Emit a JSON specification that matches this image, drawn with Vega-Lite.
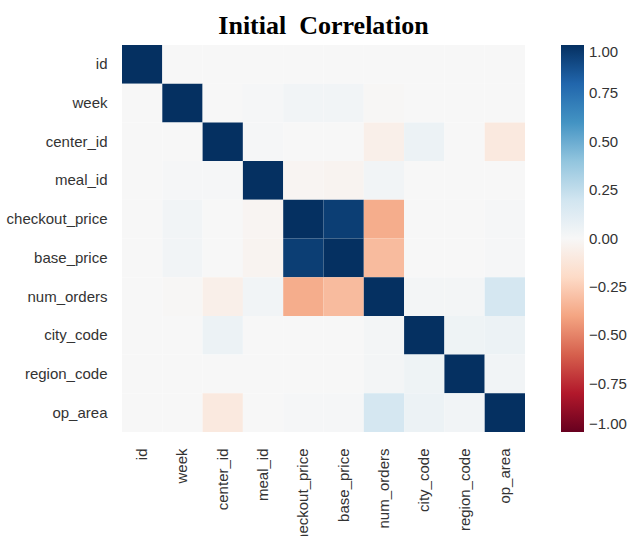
{
  "$schema": "https://vega.github.io/schema/vega-lite/v6.json",
  "width": 403,
  "height": 387,
  "autosize": {"type": "none"},
  "padding": {"left": 122, "top": 45, "right": 107, "bottom": 104},
  "background": "white",
  "title": {
    "text": "Initial\u00a0 Correlation",
    "font": "Liberation Serif",
    "fontSize": 26,
    "fontWeight": "bold",
    "color": "#000000",
    "anchor": "middle",
    "frame": "group",
    "offset": 6
  },
  "data": {
    "values": [
      {"row": "id", "col": "id", "r": 1.0},
      {"row": "id", "col": "week", "r": 0.0},
      {"row": "id", "col": "center_id", "r": 0.0},
      {"row": "id", "col": "meal_id", "r": 0.0},
      {"row": "id", "col": "checkout_price", "r": 0.0},
      {"row": "id", "col": "base_price", "r": 0.0},
      {"row": "id", "col": "num_orders", "r": 0.0},
      {"row": "id", "col": "city_code", "r": 0.0},
      {"row": "id", "col": "region_code", "r": 0.0},
      {"row": "id", "col": "op_area", "r": 0.0},

      {"row": "week", "col": "id", "r": 0.0},
      {"row": "week", "col": "week", "r": 1.0},
      {"row": "week", "col": "center_id", "r": 0.0},
      {"row": "week", "col": "meal_id", "r": 0.01},
      {"row": "week", "col": "checkout_price", "r": 0.03},
      {"row": "week", "col": "base_price", "r": 0.03},
      {"row": "week", "col": "num_orders", "r": -0.01},
      {"row": "week", "col": "city_code", "r": 0.0},
      {"row": "week", "col": "region_code", "r": 0.0},
      {"row": "week", "col": "op_area", "r": 0.0},

      {"row": "center_id", "col": "id", "r": 0.0},
      {"row": "center_id", "col": "week", "r": 0.0},
      {"row": "center_id", "col": "center_id", "r": 1.0},
      {"row": "center_id", "col": "meal_id", "r": 0.01},
      {"row": "center_id", "col": "checkout_price", "r": 0.0},
      {"row": "center_id", "col": "base_price", "r": 0.0},
      {"row": "center_id", "col": "num_orders", "r": -0.06},
      {"row": "center_id", "col": "city_code", "r": 0.06},
      {"row": "center_id", "col": "region_code", "r": 0.0},
      {"row": "center_id", "col": "op_area", "r": -0.1},

      {"row": "meal_id", "col": "id", "r": 0.0},
      {"row": "meal_id", "col": "week", "r": 0.01},
      {"row": "meal_id", "col": "center_id", "r": 0.01},
      {"row": "meal_id", "col": "meal_id", "r": 1.0},
      {"row": "meal_id", "col": "checkout_price", "r": -0.02},
      {"row": "meal_id", "col": "base_price", "r": -0.03},
      {"row": "meal_id", "col": "num_orders", "r": 0.03},
      {"row": "meal_id", "col": "city_code", "r": 0.0},
      {"row": "meal_id", "col": "region_code", "r": 0.0},
      {"row": "meal_id", "col": "op_area", "r": 0.0},

      {"row": "checkout_price", "col": "id", "r": 0.0},
      {"row": "checkout_price", "col": "week", "r": 0.03},
      {"row": "checkout_price", "col": "center_id", "r": 0.0},
      {"row": "checkout_price", "col": "meal_id", "r": -0.02},
      {"row": "checkout_price", "col": "checkout_price", "r": 1.0},
      {"row": "checkout_price", "col": "base_price", "r": 0.95},
      {"row": "checkout_price", "col": "num_orders", "r": -0.37},
      {"row": "checkout_price", "col": "city_code", "r": 0.0},
      {"row": "checkout_price", "col": "region_code", "r": 0.0},
      {"row": "checkout_price", "col": "op_area", "r": 0.01},

      {"row": "base_price", "col": "id", "r": 0.0},
      {"row": "base_price", "col": "week", "r": 0.03},
      {"row": "base_price", "col": "center_id", "r": 0.0},
      {"row": "base_price", "col": "meal_id", "r": -0.03},
      {"row": "base_price", "col": "checkout_price", "r": 0.95},
      {"row": "base_price", "col": "base_price", "r": 1.0},
      {"row": "base_price", "col": "num_orders", "r": -0.32},
      {"row": "base_price", "col": "city_code", "r": 0.0},
      {"row": "base_price", "col": "region_code", "r": 0.0},
      {"row": "base_price", "col": "op_area", "r": 0.01},

      {"row": "num_orders", "col": "id", "r": 0.0},
      {"row": "num_orders", "col": "week", "r": -0.01},
      {"row": "num_orders", "col": "center_id", "r": -0.06},
      {"row": "num_orders", "col": "meal_id", "r": 0.03},
      {"row": "num_orders", "col": "checkout_price", "r": -0.37},
      {"row": "num_orders", "col": "base_price", "r": -0.32},
      {"row": "num_orders", "col": "num_orders", "r": 1.0},
      {"row": "num_orders", "col": "city_code", "r": 0.02},
      {"row": "num_orders", "col": "region_code", "r": 0.02},
      {"row": "num_orders", "col": "op_area", "r": 0.18},

      {"row": "city_code", "col": "id", "r": 0.0},
      {"row": "city_code", "col": "week", "r": 0.0},
      {"row": "city_code", "col": "center_id", "r": 0.06},
      {"row": "city_code", "col": "meal_id", "r": 0.0},
      {"row": "city_code", "col": "checkout_price", "r": 0.0},
      {"row": "city_code", "col": "base_price", "r": 0.0},
      {"row": "city_code", "col": "num_orders", "r": 0.02},
      {"row": "city_code", "col": "city_code", "r": 1.0},
      {"row": "city_code", "col": "region_code", "r": 0.05},
      {"row": "city_code", "col": "op_area", "r": 0.06},

      {"row": "region_code", "col": "id", "r": 0.0},
      {"row": "region_code", "col": "week", "r": 0.0},
      {"row": "region_code", "col": "center_id", "r": 0.0},
      {"row": "region_code", "col": "meal_id", "r": 0.0},
      {"row": "region_code", "col": "checkout_price", "r": 0.0},
      {"row": "region_code", "col": "base_price", "r": 0.0},
      {"row": "region_code", "col": "num_orders", "r": 0.02},
      {"row": "region_code", "col": "city_code", "r": 0.05},
      {"row": "region_code", "col": "region_code", "r": 1.0},
      {"row": "region_code", "col": "op_area", "r": 0.03},

      {"row": "op_area", "col": "id", "r": 0.0},
      {"row": "op_area", "col": "week", "r": 0.0},
      {"row": "op_area", "col": "center_id", "r": -0.1},
      {"row": "op_area", "col": "meal_id", "r": 0.0},
      {"row": "op_area", "col": "checkout_price", "r": 0.01},
      {"row": "op_area", "col": "base_price", "r": 0.01},
      {"row": "op_area", "col": "num_orders", "r": 0.18},
      {"row": "op_area", "col": "city_code", "r": 0.06},
      {"row": "op_area", "col": "region_code", "r": 0.03},
      {"row": "op_area", "col": "op_area", "r": 1.0}
    ]
  },
  "mark": {"type": "rect", "strokeWidth": 0},
  "encoding": {
    "x": {
      "field": "col",
      "type": "nominal",
      "sort": ["id", "week", "center_id", "meal_id", "checkout_price", "base_price", "num_orders", "city_code", "region_code", "op_area"],
      "scale": {"paddingInner": 0, "paddingOuter": 0},
      "axis": {
        "title": null,
        "labelAngle": -90,
        "domain": false,
        "ticks": false,
        "labelPadding": 16,
        "labelFont": "Liberation Sans",
        "labelFontSize": 15,
        "labelColor": "#333333",
        "labelLimit": 300
      }
    },
    "y": {
      "field": "row",
      "type": "nominal",
      "sort": ["id", "week", "center_id", "meal_id", "checkout_price", "base_price", "num_orders", "city_code", "region_code", "op_area"],
      "scale": {"paddingInner": 0, "paddingOuter": 0},
      "axis": {
        "title": null,
        "domain": false,
        "ticks": false,
        "labelPadding": 15,
        "labelFont": "Liberation Sans",
        "labelFontSize": 15,
        "labelColor": "#333333",
        "labelLimit": 300
      }
    },
    "color": {
      "field": "r",
      "type": "quantitative",
      "scale": {
        "domain": [-1, -0.8, -0.6, -0.4, -0.2, 0, 0.2, 0.4, 0.6, 0.8, 1],
        "range": ["#67001f", "#b2182b", "#d6604d", "#f4a582", "#fddbc7", "#f7f7f7", "#d1e5f0", "#92c5de", "#4393c3", "#2166ac", "#053061"],
        "interpolate": "rgb"
      },
      "legend": {
        "orient": "none",
        "legendX": 439,
        "legendY": 0,
        "title": null,
        "direction": "vertical",
        "gradientLength": 387,
        "gradientThickness": 23,
        "gradientStrokeWidth": 0,
        "values": [-1, -0.75, -0.5, -0.25, 0, 0.25, 0.5, 0.75, 1],
        "labelExpr": "replace(format(datum.value, '.2f'), '-', '\u2212')",
        "labelFont": "Liberation Sans",
        "labelFontSize": 15,
        "labelColor": "#333333",
        "labelOffset": 5,
        "labelBaseline": "middle",
        "labelOverlap": false
      }
    }
  },
  "config": {"view": {"stroke": null}}
}
